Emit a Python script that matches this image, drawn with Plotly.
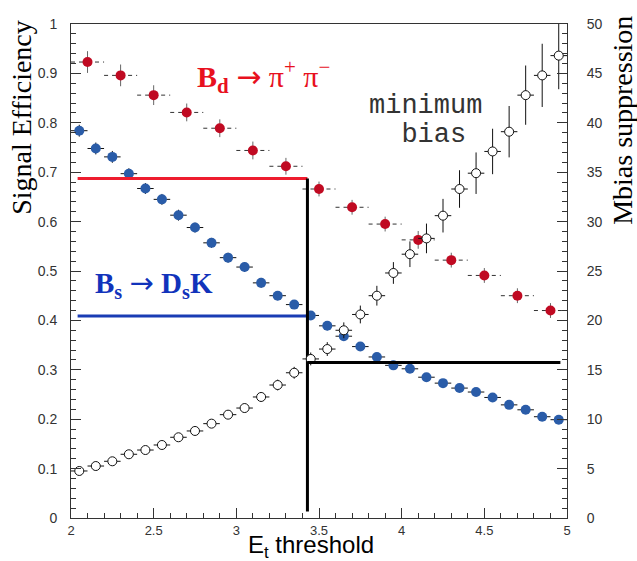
import plotly.graph_objects as go

# ---------------- data ----------------
bs_x = [2.05, 2.15, 2.25, 2.35, 2.45, 2.55, 2.65, 2.75, 2.85, 2.95,
        3.05, 3.15, 3.25, 3.35, 3.45, 3.55, 3.65, 3.75, 3.85, 3.95,
        4.05, 4.15, 4.25, 4.35, 4.45, 4.55, 4.65, 4.75, 4.85, 4.95]
bs_eff = [0.784, 0.748, 0.731, 0.697, 0.667, 0.645, 0.613, 0.588, 0.557, 0.527,
          0.508, 0.476, 0.450, 0.432, 0.410, 0.389, 0.368, 0.347, 0.326, 0.309,
          0.302, 0.285, 0.273, 0.263, 0.255, 0.244, 0.229, 0.219, 0.205, 0.199]
bs_err = [0.012, 0.012, 0.012, 0.011, 0.011, 0.011, 0.011, 0.010, 0.010, 0.010,
          0.010, 0.010, 0.009, 0.009, 0.009, 0.009, 0.009, 0.008, 0.008, 0.008,
          0.008, 0.008, 0.008, 0.008, 0.008, 0.008, 0.008, 0.008, 0.008, 0.008]
bs_halfwidth = 0.05

bd_x = [2.1, 2.3, 2.5, 2.7, 2.9, 3.1, 3.3, 3.5, 3.7, 3.9, 4.1, 4.3, 4.5, 4.7, 4.9]
bd_eff = [0.923, 0.896, 0.856, 0.821, 0.789, 0.744, 0.712, 0.666, 0.629, 0.595,
          0.563, 0.522, 0.491, 0.450, 0.420]
bd_err = [0.022, 0.022, 0.020, 0.018, 0.018, 0.018, 0.017, 0.015, 0.015, 0.015,
          0.018, 0.015, 0.015, 0.015, 0.015]
bd_halfwidth = 0.1

mb_x = bs_x
mb_supp = [4.76, 5.26, 5.74, 6.45, 6.88, 7.39, 8.17, 8.81, 9.55, 10.46,
           11.13, 12.25, 13.46, 14.7, 16.1, 17.1, 19.0, 20.6, 22.5, 24.8,
           26.7, 28.3, 30.6, 33.3, 34.9, 37.1, 39.1, 42.8, 44.8, 46.8]
mb_err = [0.2, 0.2, 0.2, 0.25, 0.25, 0.3, 0.3, 0.35, 0.35, 0.4,
          0.45, 0.5, 0.55, 0.6, 0.65, 0.7, 0.8, 0.9, 1.0, 1.1,
          1.3, 1.5, 1.7, 1.9, 2.1, 2.3, 2.6, 3.0, 3.2, 3.4]
mb_halfwidth = 0.05

# working point lines
threshold = 3.43
bd_working_eff = 0.687
bs_working_eff = 0.409
mb_working_supp = 15.75
line_x_start = 2.04
line_x_end = 4.96
vline_bottom = 0.013

x_ticks = [2, 2.5, 3, 3.5, 4, 4.5, 5]
y_ticks = [0, 0.1, 0.2, 0.3, 0.4, 0.5, 0.6, 0.7, 0.8, 0.9, 1]
y2_ticks = [0, 5, 10, 15, 20, 25, 30, 35, 40, 45, 50]

# ---------------- figure ----------------
RED_MARK = "#c00a22"
BLUE_MARK = "#2a5ca8"
fig = go.Figure()

# dashed horizontal bars for Bd
hx, hy = [], []
for x, y in zip(bd_x, bd_eff):
    hx += [x - bd_halfwidth, x + bd_halfwidth, None]
    hy += [y, y, None]
fig.add_trace(go.Scatter(x=hx, y=hy, mode="lines",
                         line=dict(color="#333333", width=1, dash="4px,4px"),
                         hoverinfo="skip", showlegend=False))

fig.add_trace(go.Scatter(
    x=bd_x, y=bd_eff, mode="markers",
    marker=dict(size=10, color=RED_MARK, line=dict(width=0)),
    error_y=dict(type="data", array=bd_err, color="#666666", thickness=1, width=0),
    showlegend=False))

fig.add_trace(go.Scatter(
    x=bs_x, y=bs_eff, mode="markers",
    marker=dict(size=10, color=BLUE_MARK, line=dict(width=0)),
    error_y=dict(type="data", array=bs_err, color="#111111", thickness=1, width=0),
    error_x=dict(type="constant", value=bs_halfwidth, color="#111111", thickness=1, width=0),
    showlegend=False))

fig.add_trace(go.Scatter(
    x=mb_x, y=mb_supp, mode="markers", yaxis="y2",
    marker=dict(size=9, color="white", line=dict(width=1, color="#111111")),
    error_y=dict(type="data", array=mb_err, color="#111111", thickness=1, width=0),
    error_x=dict(type="constant", value=mb_halfwidth, color="#111111", thickness=1, width=0),
    showlegend=False))

# working-point lines
fig.add_trace(go.Scatter(x=[line_x_start, threshold], y=[bd_working_eff, bd_working_eff],
                         mode="lines", line=dict(color="#ee1c2e", width=3),
                         hoverinfo="skip", showlegend=False))
fig.add_trace(go.Scatter(x=[line_x_start, threshold], y=[bs_working_eff, bs_working_eff],
                         mode="lines", line=dict(color="#1a3cb4", width=3),
                         hoverinfo="skip", showlegend=False))
fig.add_trace(go.Scatter(x=[threshold, threshold], y=[vline_bottom, bd_working_eff],
                         mode="lines", line=dict(color="black", width=3),
                         hoverinfo="skip", showlegend=False))
fig.add_trace(go.Scatter(x=[threshold, line_x_end], y=[mb_working_supp, mb_working_supp],
                         mode="lines", yaxis="y2", line=dict(color="black", width=3),
                         hoverinfo="skip", showlegend=False))

tickfont = dict(family="Liberation Sans, Arial, sans-serif", size=14, color="#333333")
xtickfont = dict(family="Liberation Sans, Arial, sans-serif", size=13, color="#333333")
axline = dict(showline=True, linecolor="#333333", linewidth=1, showgrid=False, zeroline=False)

fig.update_layout(
    width=637, height=561,
    margin=dict(l=71, r=70, t=24, b=43),
    paper_bgcolor="white", plot_bgcolor="white",
    xaxis=dict(range=[2, 5], tickvals=x_ticks, ticktext=[f"{v:g}" for v in x_ticks],
               ticks="inside", ticklen=10, tickcolor="#333333",
               minor=dict(ticks="inside", ticklen=5, dtick=0.1, tick0=2, tickcolor="#333333"),
               mirror=True, tickfont=xtickfont, ticklabelstandoff=0, **axline),
    yaxis=dict(range=[0, 1], tickvals=y_ticks, ticktext=[f"{v:g}" for v in y_ticks],
               ticks="inside", ticklen=10, tickcolor="#333333",
               minor=dict(ticks="inside", ticklen=5, dtick=0.02, tick0=0, tickcolor="#333333"),
               tickfont=tickfont, ticklabelstandoff=10, **axline),
    yaxis2=dict(range=[0, 50], overlaying="y", side="right",
                tickvals=y2_ticks, ticktext=[f"{v:g}" for v in y2_ticks],
                ticks="inside", ticklen=10, tickcolor="#333333",
                minor=dict(ticks="inside", ticklen=5, dtick=1, tick0=0, tickcolor="#333333"),
                tickfont=tickfont, ticklabelstandoff=16, **axline),
)

serif = "Liberation Serif, Times New Roman, serif"
arrow = "<span style='font-family:DejaVu Sans'>\u2192</span>"
ann = []
ann.append(dict(text="Signal Efficiency", xref="paper", yref="paper", x=-0.0988, y=0.812,
                textangle=-90, showarrow=False, xanchor="center", yanchor="middle",
                font=dict(family=serif, size=28, color="black")))
ann.append(dict(text="Mbias suppression", xref="paper", yref="paper", x=1.113, y=0.804,
                textangle=-90, showarrow=False, xanchor="center", yanchor="middle",
                font=dict(family=serif, size=28, color="black")))
ann.append(dict(text="E<sub>t</sub> threshold", xref="paper", yref="paper", x=0.484, y=-0.057,
                showarrow=False, xanchor="center", yanchor="middle",
                font=dict(family="Liberation Sans, Arial, sans-serif", size=24, color="black")))
ann.append(dict(text="<b>B<sub>d</sub></b> " + arrow + " \u03c0<sup>+</sup> \u03c0<sup>\u2212</sup>",
                x=2.75, y=0.893, showarrow=False, xanchor="left", yanchor="middle",
                font=dict(family=serif, size=30, color="#e8101e")))
ann.append(dict(text="<b>B<sub>s</sub></b> " + arrow + " <b>D<sub>s</sub>K</b>",
                x=2.133, y=0.472, showarrow=False, xanchor="left", yanchor="middle",
                font=dict(family=serif, size=29, color="#1133bb")))
mono = "Liberation Mono, Courier New, monospace"
ann.append(dict(text="minimum", x=3.79, y=0.834, showarrow=False, xanchor="left", yanchor="middle",
                font=dict(family=mono, size=27, color="#333333")))
ann.append(dict(text="\u00a0\u00a0bias", x=3.79, y=0.775, showarrow=False, xanchor="left", yanchor="middle",
                font=dict(family=mono, size=27, color="#333333")))
fig.update_layout(annotations=ann)

fig.write_html("out.html")
